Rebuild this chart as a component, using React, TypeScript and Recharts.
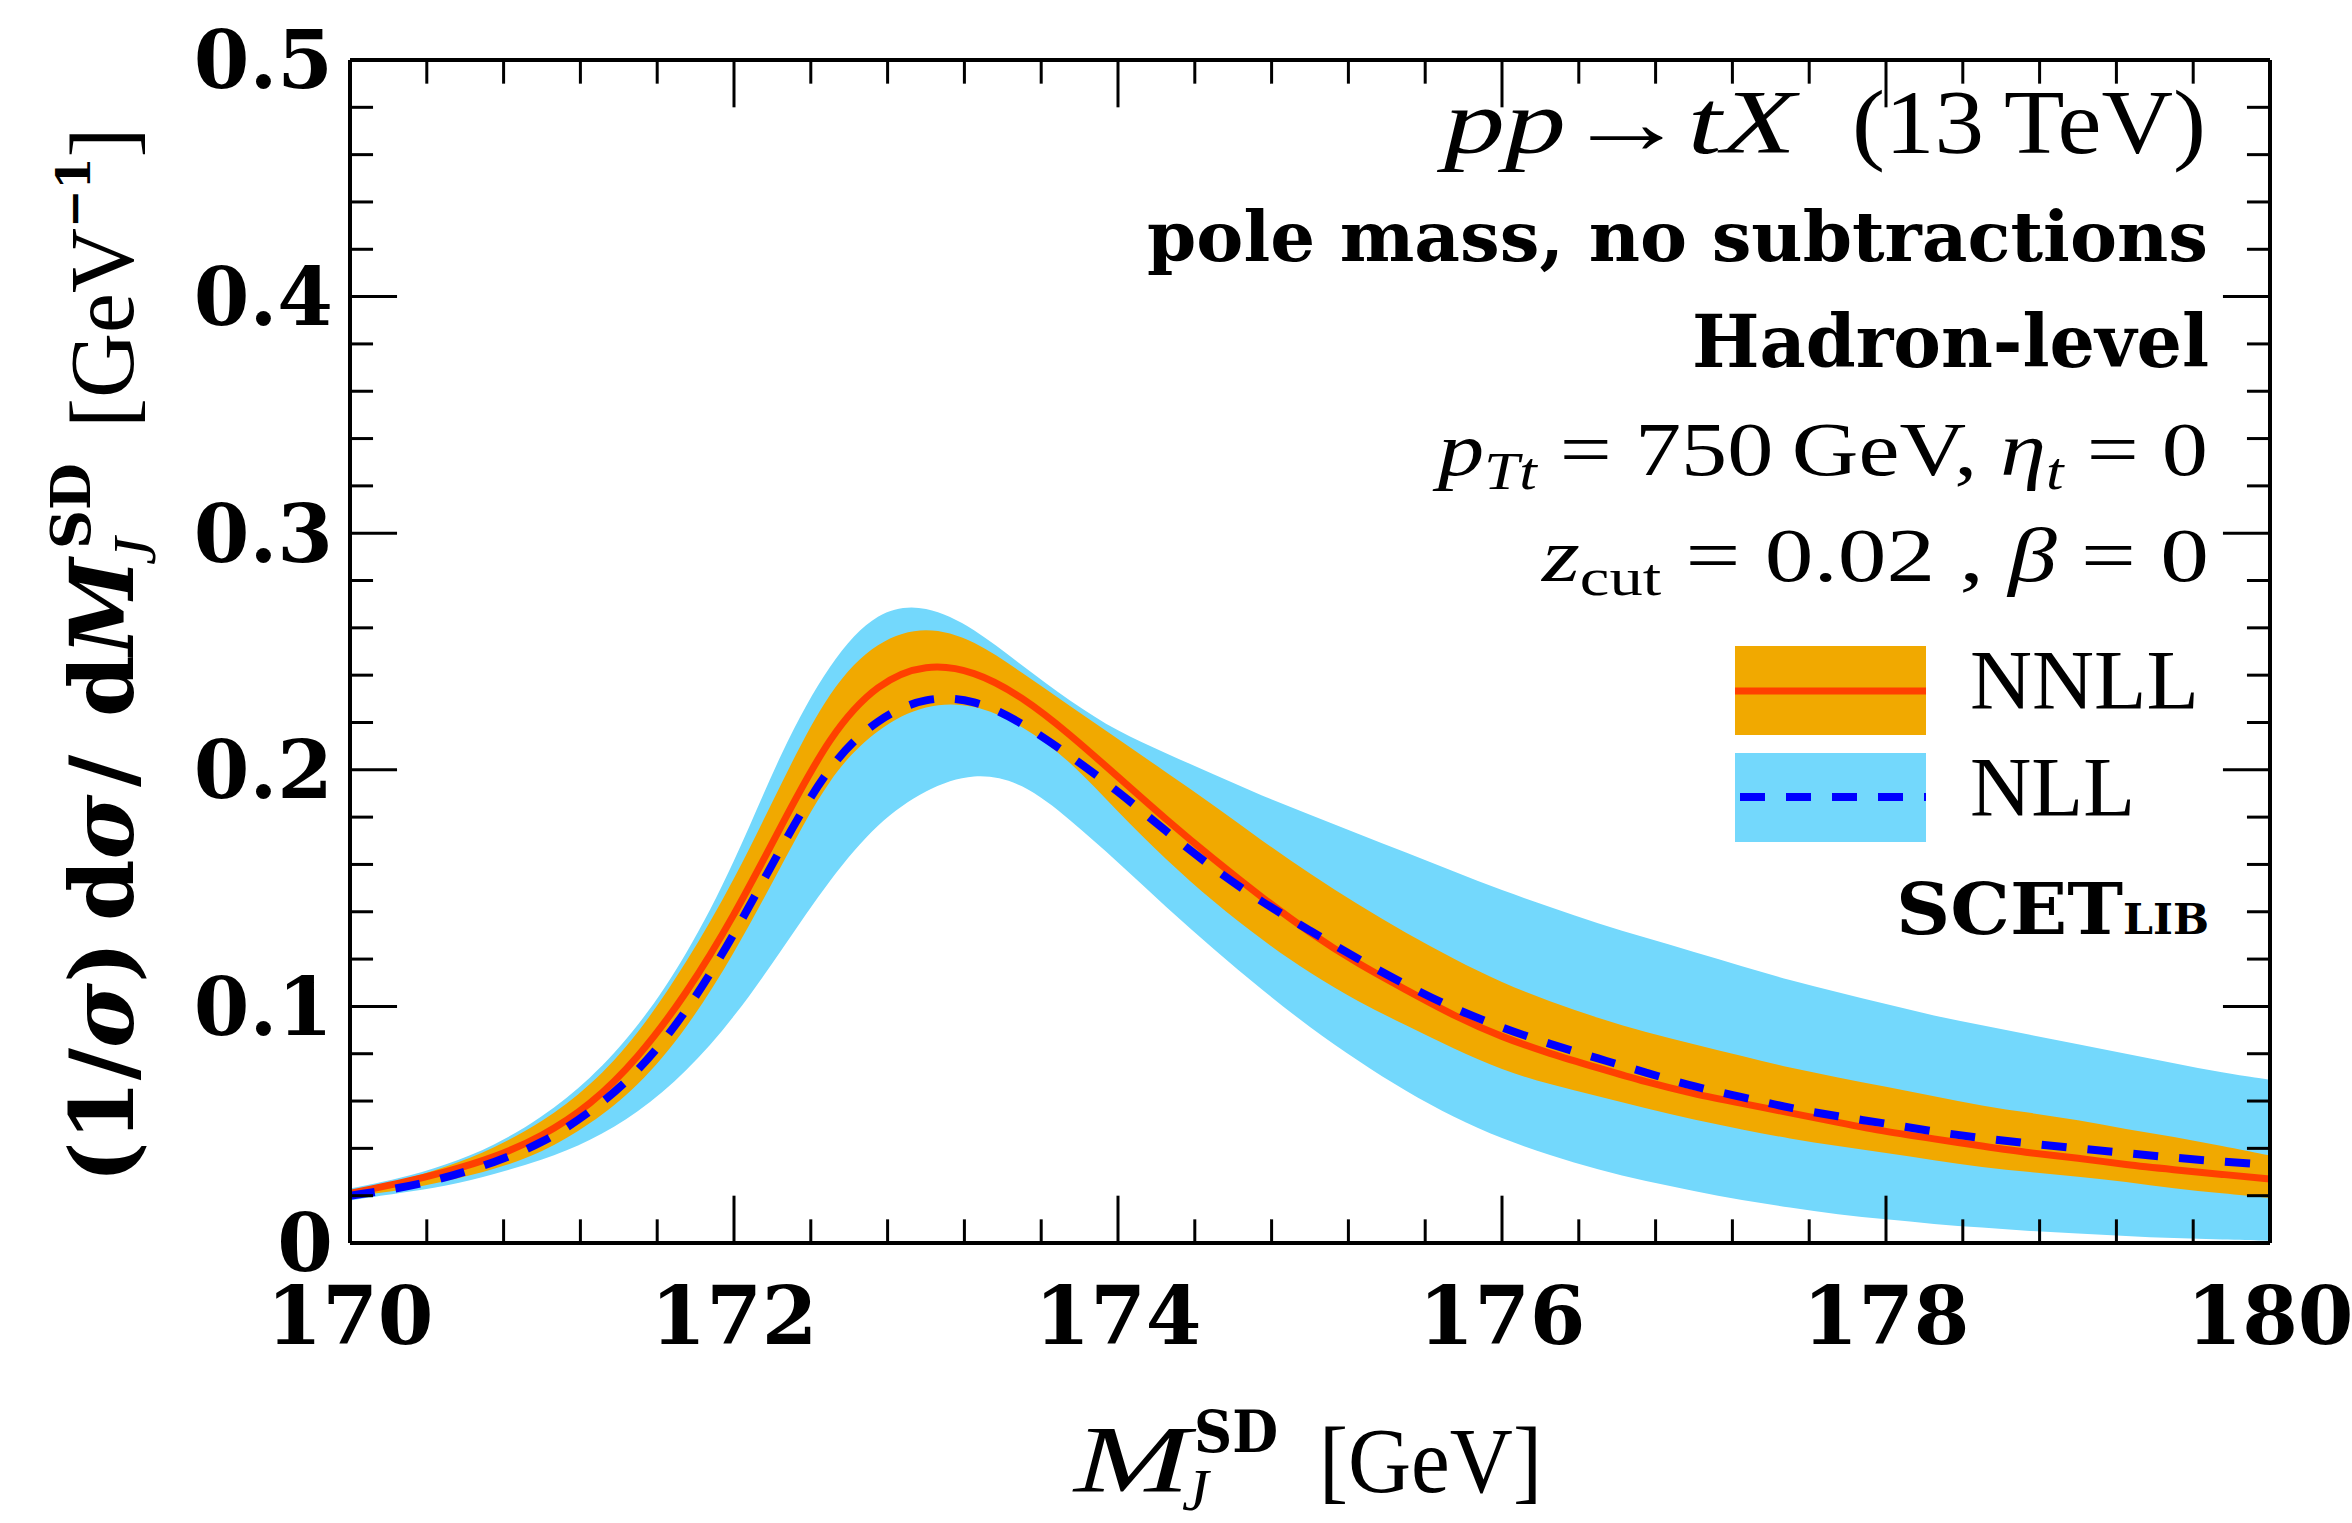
import React from 'react';
import { ComposedChart, Area, Line, XAxis, YAxis, ReferenceLine } from 'recharts';

const MASS = [
  170, 170.25, 170.5, 170.75, 171, 171.25, 171.5, 171.75, 172, 172.25, 172.5, 172.75, 173, 173.25, 173.5, 173.75,
  174, 174.25, 174.5, 174.75, 175, 175.25, 175.5, 175.75, 176, 176.25, 176.5, 176.75, 177, 177.25, 177.5, 177.75,
  178, 178.25, 178.5, 178.75, 179, 179.25, 179.5, 179.75, 180,
];

const NNLL = [
  0.021, 0.025, 0.030, 0.036, 0.045, 0.058, 0.078, 0.105, 0.138, 0.177, 0.215, 0.237, 0.245, 0.242, 0.231, 0.215,
  0.197, 0.179, 0.162, 0.146, 0.131, 0.118, 0.107, 0.096, 0.087, 0.080, 0.074, 0.068, 0.063, 0.059, 0.055, 0.051,
  0.047, 0.044, 0.041, 0.038, 0.036, 0.033, 0.031, 0.029, 0.027,
];
const NNLL_HI = [
  0.022, 0.026, 0.032, 0.040, 0.051, 0.066, 0.088, 0.118, 0.153, 0.195, 0.235, 0.255, 0.261, 0.255, 0.241, 0.227,
  0.213, 0.199, 0.185, 0.170, 0.156, 0.143, 0.131, 0.120, 0.110, 0.102, 0.095, 0.089, 0.084, 0.079, 0.074, 0.070,
  0.066, 0.062, 0.058, 0.055, 0.052, 0.048, 0.045, 0.041, 0.037,
];
const NNLL_LO = [
  0.0195, 0.022, 0.026, 0.031, 0.038, 0.050, 0.066, 0.090, 0.122, 0.160, 0.198, 0.218, 0.228, 0.228, 0.219, 0.204,
  0.182, 0.162, 0.144, 0.128, 0.114, 0.102, 0.092, 0.082, 0.073, 0.067, 0.062, 0.057, 0.052, 0.048, 0.044, 0.041,
  0.038, 0.035, 0.032, 0.030, 0.028, 0.026, 0.023, 0.021, 0.019,
];

const NLL = [
  0.020, 0.023, 0.0275, 0.034, 0.042, 0.055, 0.072, 0.097, 0.130, 0.168, 0.203, 0.222, 0.231, 0.230, 0.220, 0.206,
  0.191, 0.174, 0.158, 0.144, 0.132, 0.120, 0.109, 0.099, 0.091, 0.084, 0.078, 0.072, 0.066, 0.0617, 0.057, 0.0535,
  0.0505, 0.047, 0.0443, 0.042, 0.040, 0.038, 0.036, 0.0344, 0.033,
];
const NLL_HI = [
  0.023, 0.027, 0.033, 0.041, 0.053, 0.069, 0.091, 0.121, 0.160, 0.209, 0.246, 0.268, 0.270, 0.260, 0.244, 0.229,
  0.216, 0.207, 0.198, 0.189, 0.181, 0.173, 0.165, 0.157, 0.149, 0.142, 0.135, 0.129, 0.123, 0.117, 0.111, 0.106,
  0.101, 0.096, 0.092, 0.088, 0.084, 0.080, 0.076, 0.072, 0.069,
];
const NLL_LO = [
  0.018, 0.021, 0.024, 0.029, 0.035, 0.043, 0.055, 0.072, 0.095, 0.124, 0.154, 0.178, 0.192, 0.199, 0.195, 0.179,
  0.161, 0.142, 0.124, 0.107, 0.091, 0.077, 0.064, 0.053, 0.044, 0.037, 0.031, 0.026, 0.022, 0.018, 0.015, 0.012,
  0.010, 0.008, 0.0065, 0.005, 0.004, 0.003, 0.002, 0.0015, 0.001,
];

const X_TICKS = [170, 172, 174, 176, 178, 180];
const X_MINOR = [170.4, 170.8, 171.2, 171.6, 172.4, 172.8, 173.2, 173.6, 174.4, 174.8, 175.2, 175.6, 176.4, 176.8, 177.2, 177.6, 178.4, 178.8, 179.2, 179.6];
const Y_TICKS = [0, 0.1, 0.2, 0.3, 0.4, 0.5];
const Y_MINOR = [0.02, 0.04, 0.06, 0.08, 0.12, 0.14, 0.16, 0.18, 0.22, 0.24, 0.26, 0.28, 0.32, 0.34, 0.36, 0.38, 0.42, 0.44, 0.46, 0.48];

const SERIF = "'Liberation Serif', serif";
const BOLD = "'DejaVu Serif', serif";

const NLL_BLUE = '#73d8fc';
const NNLL_ORANGE = '#f1a900';

const data = MASS.map((m, i) => ({
  m,
  nnll: NNLL[i],
  nnllBand: [NNLL_LO[i], NNLL_HI[i]],
  nll: NLL[i],
  nllBand: [NLL_LO[i], NLL_HI[i]],
}));

// tick lengths in data units (~47px major, ~23px minor)
const Y_MAJ = 0.02;
const Y_MIN = 0.01;
const X_MAJ = 0.245;
const X_MIN = 0.12;

function tickMarks() {
  const out: React.ReactNode[] = [];
  const innerX = X_TICKS.filter((t) => t > 170 && t < 180);
  const innerY = Y_TICKS.filter((t) => t > 0 && t < 0.5);
  const addX = (x: number, len: number, key: string) => {
    out.push(<ReferenceLine key={`b${key}`} segment={[{ x, y: 0 }, { x, y: len }]} stroke="#000" strokeWidth={3} ifOverflow="visible" />);
    out.push(<ReferenceLine key={`t${key}`} segment={[{ x, y: 0.5 }, { x, y: 0.5 - len }]} stroke="#000" strokeWidth={3} ifOverflow="visible" />);
  };
  const addY = (y: number, len: number, key: string) => {
    out.push(<ReferenceLine key={`l${key}`} segment={[{ x: 170, y }, { x: 170 + len, y }]} stroke="#000" strokeWidth={3} ifOverflow="visible" />);
    out.push(<ReferenceLine key={`r${key}`} segment={[{ x: 180, y }, { x: 180 - len, y }]} stroke="#000" strokeWidth={3} ifOverflow="visible" />);
  };
  innerX.forEach((x) => addX(x, Y_MAJ, `M${x}`));
  X_MINOR.forEach((x) => addX(x, Y_MIN, `m${x}`));
  innerY.forEach((y) => addY(y, X_MAJ, `M${y}`));
  Y_MINOR.forEach((y) => addY(y, X_MIN, `m${y}`));
  return out;
}

const tickFont = { fill: '#000', fontSize: 80, fontFamily: BOLD, fontWeight: 'bold' };

export default function App() {
  return (
    <div style={{ position: 'absolute', left: 0, top: 0, width: 2352, height: 1523, background: '#fff' }}>
      <ComposedChart
        width={2352}
        height={1523}
        data={data}
        margin={{ top: 60, right: 82, bottom: 220, left: 250 }}
      >
        <XAxis
          dataKey="m"
          type="number"
          domain={[170, 180]}
          ticks={X_TICKS}
          interval={0}
          allowDataOverflow
          height={60}
          tickLine={false}
          tickSize={0}
          tickMargin={44}
          axisLine={{ stroke: '#000', strokeWidth: 4 }}
          tick={tickFont}
        />
        <YAxis
          type="number"
          domain={[0, 0.5]}
          ticks={Y_TICKS}
          interval={0}
          allowDataOverflow
          width={100}
          tickLine={false}
          tickSize={0}
          tickMargin={17}
          axisLine={{ stroke: '#000', strokeWidth: 4 }}
          tick={tickFont}
        />
        <Area type="basis" dataKey="nllBand" stroke="none" fill={NLL_BLUE} fillOpacity={1} isAnimationActive={false} />
        <Area type="basis" dataKey="nnllBand" stroke="none" fill={NNLL_ORANGE} fillOpacity={1} isAnimationActive={false} />
        <Line type="basis" dataKey="nnll" stroke="#ff4000" strokeWidth={7} dot={false} isAnimationActive={false} />
        <Line type="basis" dataKey="nll" stroke="#0000ff" strokeWidth={8} strokeDasharray="25 21" dot={false} isAnimationActive={false} />
        <ReferenceLine y={0.5} stroke="#000" strokeWidth={4} ifOverflow="visible" />
        <ReferenceLine x={180} stroke="#000" strokeWidth={4} ifOverflow="visible" />
        {tickMarks()}
      </ComposedChart>

      <svg width={2352} height={1523} style={{ position: 'absolute', left: 0, top: 0, pointerEvents: 'none' }}>
        {/* y axis title */}
        <text transform="translate(133,1183) rotate(-90)" fontFamily={BOLD} fontWeight="bold" fontSize={88} fill="#000">
          <tspan x={0}>(1/</tspan>
          <tspan fontStyle="italic">σ</tspan>
          <tspan>)</tspan>
          <tspan x={262}>d</tspan>
          <tspan fontStyle="italic">σ</tspan>
          <tspan x={396}>/</tspan>
          <tspan x={466}>d</tspan>
          <tspan fontStyle="italic">M</tspan>
          <tspan x={634} dy={-43} fontSize={54}>SD</tspan>
          <tspan x={618} dy={65} fontFamily={SERIF} fontStyle="italic" fontWeight="normal" fontSize={62}>J</tspan>
          <tspan x={755} dy={-22} fontFamily={SERIF} fontWeight="normal" fontSize={90}>[GeV</tspan>
          <tspan dy={-43} fontSize={46}>−1</tspan>
          <tspan dy={43} fontFamily={SERIF} fontWeight="normal" fontSize={90}>]</tspan>
        </text>

        {/* x axis title */}
        <text x={1074} y={1492} fontFamily={SERIF} fontStyle="italic" fontSize={96} fill="#000" textLength={116} lengthAdjust="spacingAndGlyphs">M</text>
        <text x={1194} y={1452} fontFamily={BOLD} fontWeight="bold" fontSize={58} fill="#000" textLength={84} lengthAdjust="spacingAndGlyphs">SD</text>
        <text x={1182} y={1510} fontFamily={SERIF} fontStyle="italic" fontSize={60} fill="#000">J</text>
        <text x={1319} y={1492} fontFamily={SERIF} fontSize={94} fill="#000" textLength={223} lengthAdjust="spacingAndGlyphs">[GeV]</text>

        {/* annotations */}
        <text x={1444} y={153} fontFamily={SERIF} fontSize={90} fill="#000" textLength={352} lengthAdjust="spacingAndGlyphs">
          <tspan fontStyle="italic">pp</tspan>
          <tspan>→</tspan>
          <tspan fontStyle="italic">tX</tspan>
        </text>
        <text x={1852} y={153} fontFamily={SERIF} fontSize={90} fill="#000" textLength={354} lengthAdjust="spacingAndGlyphs">
          (13{'\u2009'}TeV)
        </text>
        <text x={1147} y={261} fontFamily={BOLD} fontWeight="bold" fontSize={70} fill="#000" textLength={1061} lengthAdjust="spacingAndGlyphs">
          pole mass, no subtractions
        </text>
        <text x={1692} y={367} fontFamily={BOLD} fontWeight="bold" fontSize={73} fill="#000" textLength={517} lengthAdjust="spacingAndGlyphs">
          Hadron-level
        </text>
        <text x={1438} y={475} fontFamily={SERIF} fontSize={76} fill="#000" textLength={770} lengthAdjust="spacingAndGlyphs">
          <tspan fontStyle="italic">p</tspan>
          <tspan fontStyle="italic" fontSize={52} dy={14}>Tt</tspan>
          <tspan dy={-14}>{' = 750\u2009GeV, '}</tspan>
          <tspan fontStyle="italic">η</tspan>
          <tspan fontStyle="italic" fontSize={52} dy={14}>t</tspan>
          <tspan dy={-14}>{' = 0'}</tspan>
        </text>
        <text x={1542} y={581} fontFamily={SERIF} fontSize={76} fill="#000" textLength={667} lengthAdjust="spacingAndGlyphs">
          <tspan fontStyle="italic">z</tspan>
          <tspan fontSize={52} dy={14}>cut</tspan>
          <tspan dy={-14}>{' = 0.02 , '}</tspan>
          <tspan fontStyle="italic">β</tspan>
          <tspan>{' = 0'}</tspan>
        </text>

        {/* legend */}
        <rect x={1735} y={646} width={191} height={89} fill={NNLL_ORANGE} />
        <line x1={1735} y1={691} x2={1926} y2={691} stroke="#ff4000" strokeWidth={7} />
        <rect x={1735} y={753} width={191} height={89} fill={NLL_BLUE} />
        <line x1={1740} y1={797} x2={1926} y2={797} stroke="#0000ff" strokeWidth={8} strokeDasharray="25 21" />
        <text x={1970} y={709} fontFamily={SERIF} fontSize={84} fill="#000" textLength={229} lengthAdjust="spacingAndGlyphs">NNLL</text>
        <text x={1970} y={816} fontFamily={SERIF} fontSize={84} fill="#000" textLength={165} lengthAdjust="spacingAndGlyphs">NLL</text>

        <text x={1896} y={934} fontFamily={BOLD} fontWeight="bold" fontSize={71} fill="#000" textLength={227} lengthAdjust="spacingAndGlyphs">SCET</text>
        <text x={2123} y={934} fontFamily={BOLD} fontWeight="bold" fontSize={42} fill="#000" textLength={86} lengthAdjust="spacingAndGlyphs">LIB</text>
      </svg>
    </div>
  );
}
